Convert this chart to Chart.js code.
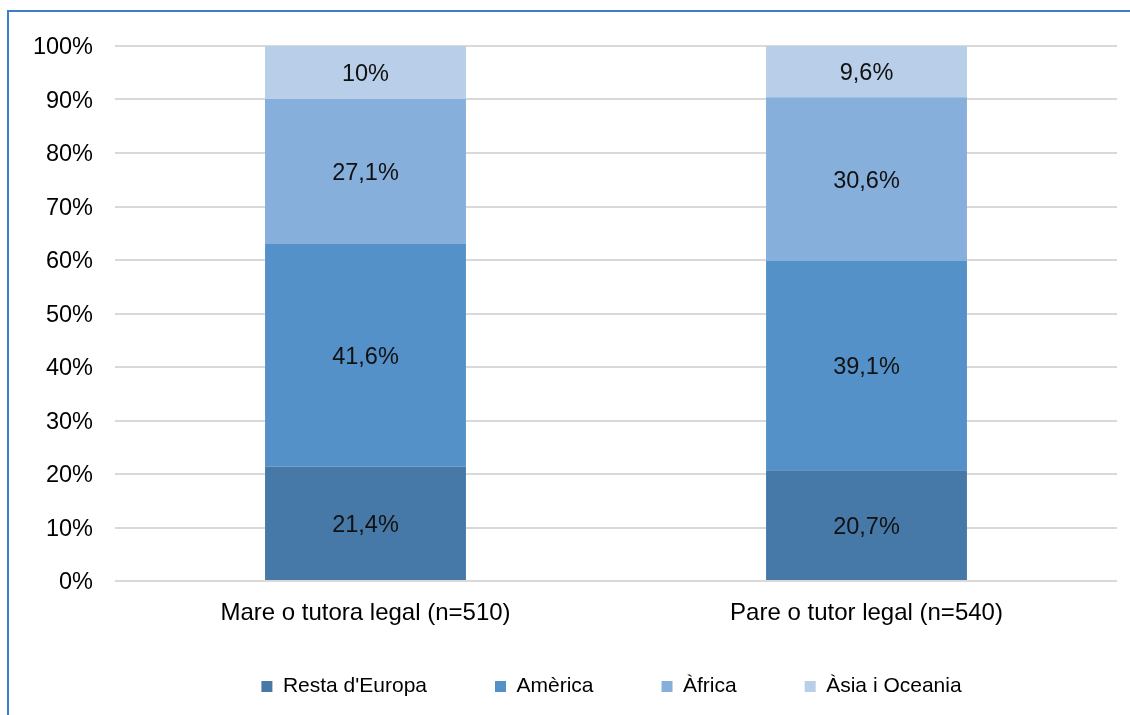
<!DOCTYPE html>
<html>
<head>
<meta charset="utf-8">
<script src="https://cdn.jsdelivr.net/npm/chart.js@4.4.1/dist/chart.umd.min.js"></script>
<style>
  html, body { margin: 0; padding: 0; background: #ffffff; overflow: hidden; }
  #wrap { position: relative; width: 1130px; height: 715px; }
  #frame { position: absolute; left: 7px; top: 10px; width: 1300px; height: 900px;
           border-top: 2px solid #3D7EC6; border-left: 2px solid #3D7EC6; pointer-events: none; }
  canvas { position: absolute; left: 0; top: 0; }
</style>
</head>
<body>
<div id="wrap">
  <canvas id="c" width="1130" height="715"></canvas>
  <div id="frame"></div>
</div>
<script>
const categories = ['Mare o tutora legal (n=510)', 'Pare o tutor legal (n=540)'];
const seriesNames = ["Resta d'Europa", 'Amèrica', 'Àfrica', 'Àsia i Oceania'];
const restaEuropa = [21.4, 20.7];
const america = [41.6, 39.1];
const africa = [27.1, 30.6];
const asiaOceania = [10, 9.6];
const seriesColors = ['#4679A8', '#5491C8', '#86AFDC', '#B9CEE8'];
const yMin = 0, yMax = 100, yStep = 10;

const FONT = '"Liberation Sans", Arial, sans-serif';

const fmt = v => String(v).replace('.', ',') + '%';

const valueLabels = {
  id: 'valueLabels',
  afterDatasetsDraw(chart) {
    const ctx = chart.ctx;
    ctx.save();
    ctx.font = '23.5px ' + FONT;
    ctx.fillStyle = '#111111';
    ctx.textAlign = 'center';
    ctx.textBaseline = 'middle';
    chart.data.datasets.forEach((ds, di) => {
      const meta = chart.getDatasetMeta(di);
      meta.data.forEach((el, i) => {
        const p = el.getCenterPoint();
        ctx.fillText(fmt(ds.data[i]), p.x, p.y + 2);
      });
    });
    ctx.restore();
  }
};

// place the legend box under the plot, as in the original layout
const legendPlacer = {
  id: 'legendPlacer',
  afterLayout(chart) {
    const lg = chart.legend;
    if (!lg) return;
    lg.left = 106;
    lg.right = 1117;
    lg.width = lg.right - lg.left;
    lg.top = 608;
    lg.bottom = 707;
    lg.height = lg.bottom - lg.top;
  }
};

const seriesData = [restaEuropa, america, africa, asiaOceania];

new Chart(document.getElementById('c'), {
  type: 'bar',
  data: {
    labels: categories,
    datasets: seriesNames.map((name, i) => ({
      label: name,
      data: seriesData[i],
      backgroundColor: seriesColors[i],
      borderWidth: 0,
      barPercentage: 0.401,
      categoryPercentage: 1.0
    }))
  },
  options: {
    responsive: false,
    animation: false,
    devicePixelRatio: 1,
    layout: { padding: { left: 0, right: 13, top: 46, bottom: 4 } },
    plugins: {
      tooltip: { enabled: false },
      legend: {
        position: 'bottom',
        maxHeight: 70,
        labels: {
          boxWidth: 11,
          boxHeight: 11,
          padding: 68,
          color: '#000000',
          font: { family: FONT, size: 21 }
        }
      }
    },
    scales: {
      x: {
        stacked: true,
        grid: { display: false },
        border: { display: false },
        ticks: { color: '#000000', font: { family: FONT, size: 24 }, padding: 10, maxRotation: 0 },
        afterFit(scale) { scale.height = 60; }
      },
      y: {
        stacked: true,
        min: yMin,
        max: yMax,
        grid: { color: '#D9D9D9', lineWidth: 2, drawTicks: false },
        border: { display: false },
        ticks: {
          stepSize: yStep,
          padding: 22,
          labelOffset: 2,
          color: '#000000',
          font: { family: FONT, size: 23.5 },
          callback: v => v + '%'
        },
        afterFit(scale) { scale.width = 115; }
      }
    }
  },
  plugins: [valueLabels, legendPlacer]
});
</script>
</body>
</html>
